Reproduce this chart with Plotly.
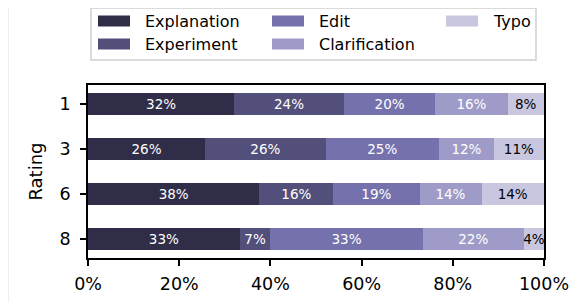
import plotly.graph_objects as go

ratings = ["1", "3", "6", "8"]
explanation = [32.1, 25.7, 37.6, 33.3]
experiment = [24.0, 26.4, 16.2, 6.7]
edit = [20.1, 24.9, 18.9, 33.4]
clarification = [15.8, 12.0, 13.6, 22.2]
typo = [8.0, 11.0, 13.7, 4.4]

series = [
    ("Explanation", explanation, "#302d48", "white"),
    ("Experiment", experiment, "#524f7a", "white"),
    ("Edit", edit, "#7571ad", "white"),
    ("Clarification", clarification, "#9e9bc8", "white"),
    ("Typo", typo, "#c9c7e0", "black"),
]

# page offset from default body margin
OFF = 8
W, H = 587 - OFF, 302 - OFF
# plot area in page pixels
L, R, T, B = 88, 544, 85, 258
def px(x):
    return (x - L) / (R - L)
def py(y):
    return (B - y) / (B - T)

fig = go.Figure()
for name, vals, color, tcolor in series:
    fig.add_trace(go.Bar(
        y=ratings, x=vals, name=name, orientation="h",
        marker=dict(color=color, line=dict(width=0)),
        width=0.5,
        text=[f"{round(v):d}%" for v in vals],
        textposition="inside", insidetextanchor="middle", textangle=0,
        textfont=dict(color=tcolor, size=13.5, family="DejaVu Sans"),
        showlegend=False,
    ))

shapes = [
    dict(type="rect", xref="paper", yref="paper",
         x0=px(91), x1=px(536), y0=py(60), y1=py(8),
         line=dict(color="#d0d0d0", width=1.5), fillcolor="white", layer="above"),
    dict(type="line", xref="paper", yref="paper",
         x0=px(8.5), x1=px(8.5), y0=py(302), y1=py(8),
         line=dict(color="#eeeeee", width=1)),
]
annotations = []
col_x = [98, 272, 446]
row_y = [21, 44]
for i, (name, vals, color, tcolor) in enumerate(series):
    col, row = i // 2, i % 2
    x0 = col_x[col]
    yc = row_y[row]
    shapes.append(dict(type="rect", xref="paper", yref="paper",
                       x0=px(x0), x1=px(x0 + 32), y0=py(yc + 5.5), y1=py(yc - 5.5),
                       line=dict(width=0), fillcolor=color, layer="above"))
    annotations.append(dict(text=name, xref="paper", yref="paper",
                            x=px(x0 + 45), y=py(yc), xanchor="left", yanchor="middle",
                            showarrow=False, font=dict(size=16, color="black")))

fig.update_layout(
    barmode="stack",
    width=W, height=H,
    margin=dict(l=L - OFF, r=587 - R, t=T - OFF, b=302 - B, autoexpand=False),
    paper_bgcolor="white", plot_bgcolor="white",
    font=dict(family="DejaVu Sans", size=17.5, color="black"),
    uniformtext=dict(minsize=13.5, mode="show"),
    showlegend=False,
    shapes=shapes,
    annotations=annotations,
)
fig.update_xaxes(
    range=[0, 100], tickvals=[0, 20, 40, 60, 80, 100],
    ticktext=["0%", "20%", "40%", "60%", "80%", "100%"],
    showline=True, linecolor="black", linewidth=1.5, mirror=True,
    ticks="outside", ticklen=6, tickwidth=1.5, tickcolor="black",
    showgrid=False, zeroline=False, tickfont=dict(size=17.5),
    ticklabelstandoff=3,
)
fig.update_yaxes(
    type="category", categoryorder="array", categoryarray=ratings,
    range=[3.425, -0.425],
    showline=True, linecolor="black", linewidth=1.5, mirror=True,
    ticks="outside", ticklen=6, tickwidth=1.5, tickcolor="black",
    showgrid=False, zeroline=False, tickfont=dict(size=17.5),
    ticklabelstandoff=6,
    title=dict(text="Rating", font=dict(size=18), standoff=12),
)

fig.write_html("out.html")
